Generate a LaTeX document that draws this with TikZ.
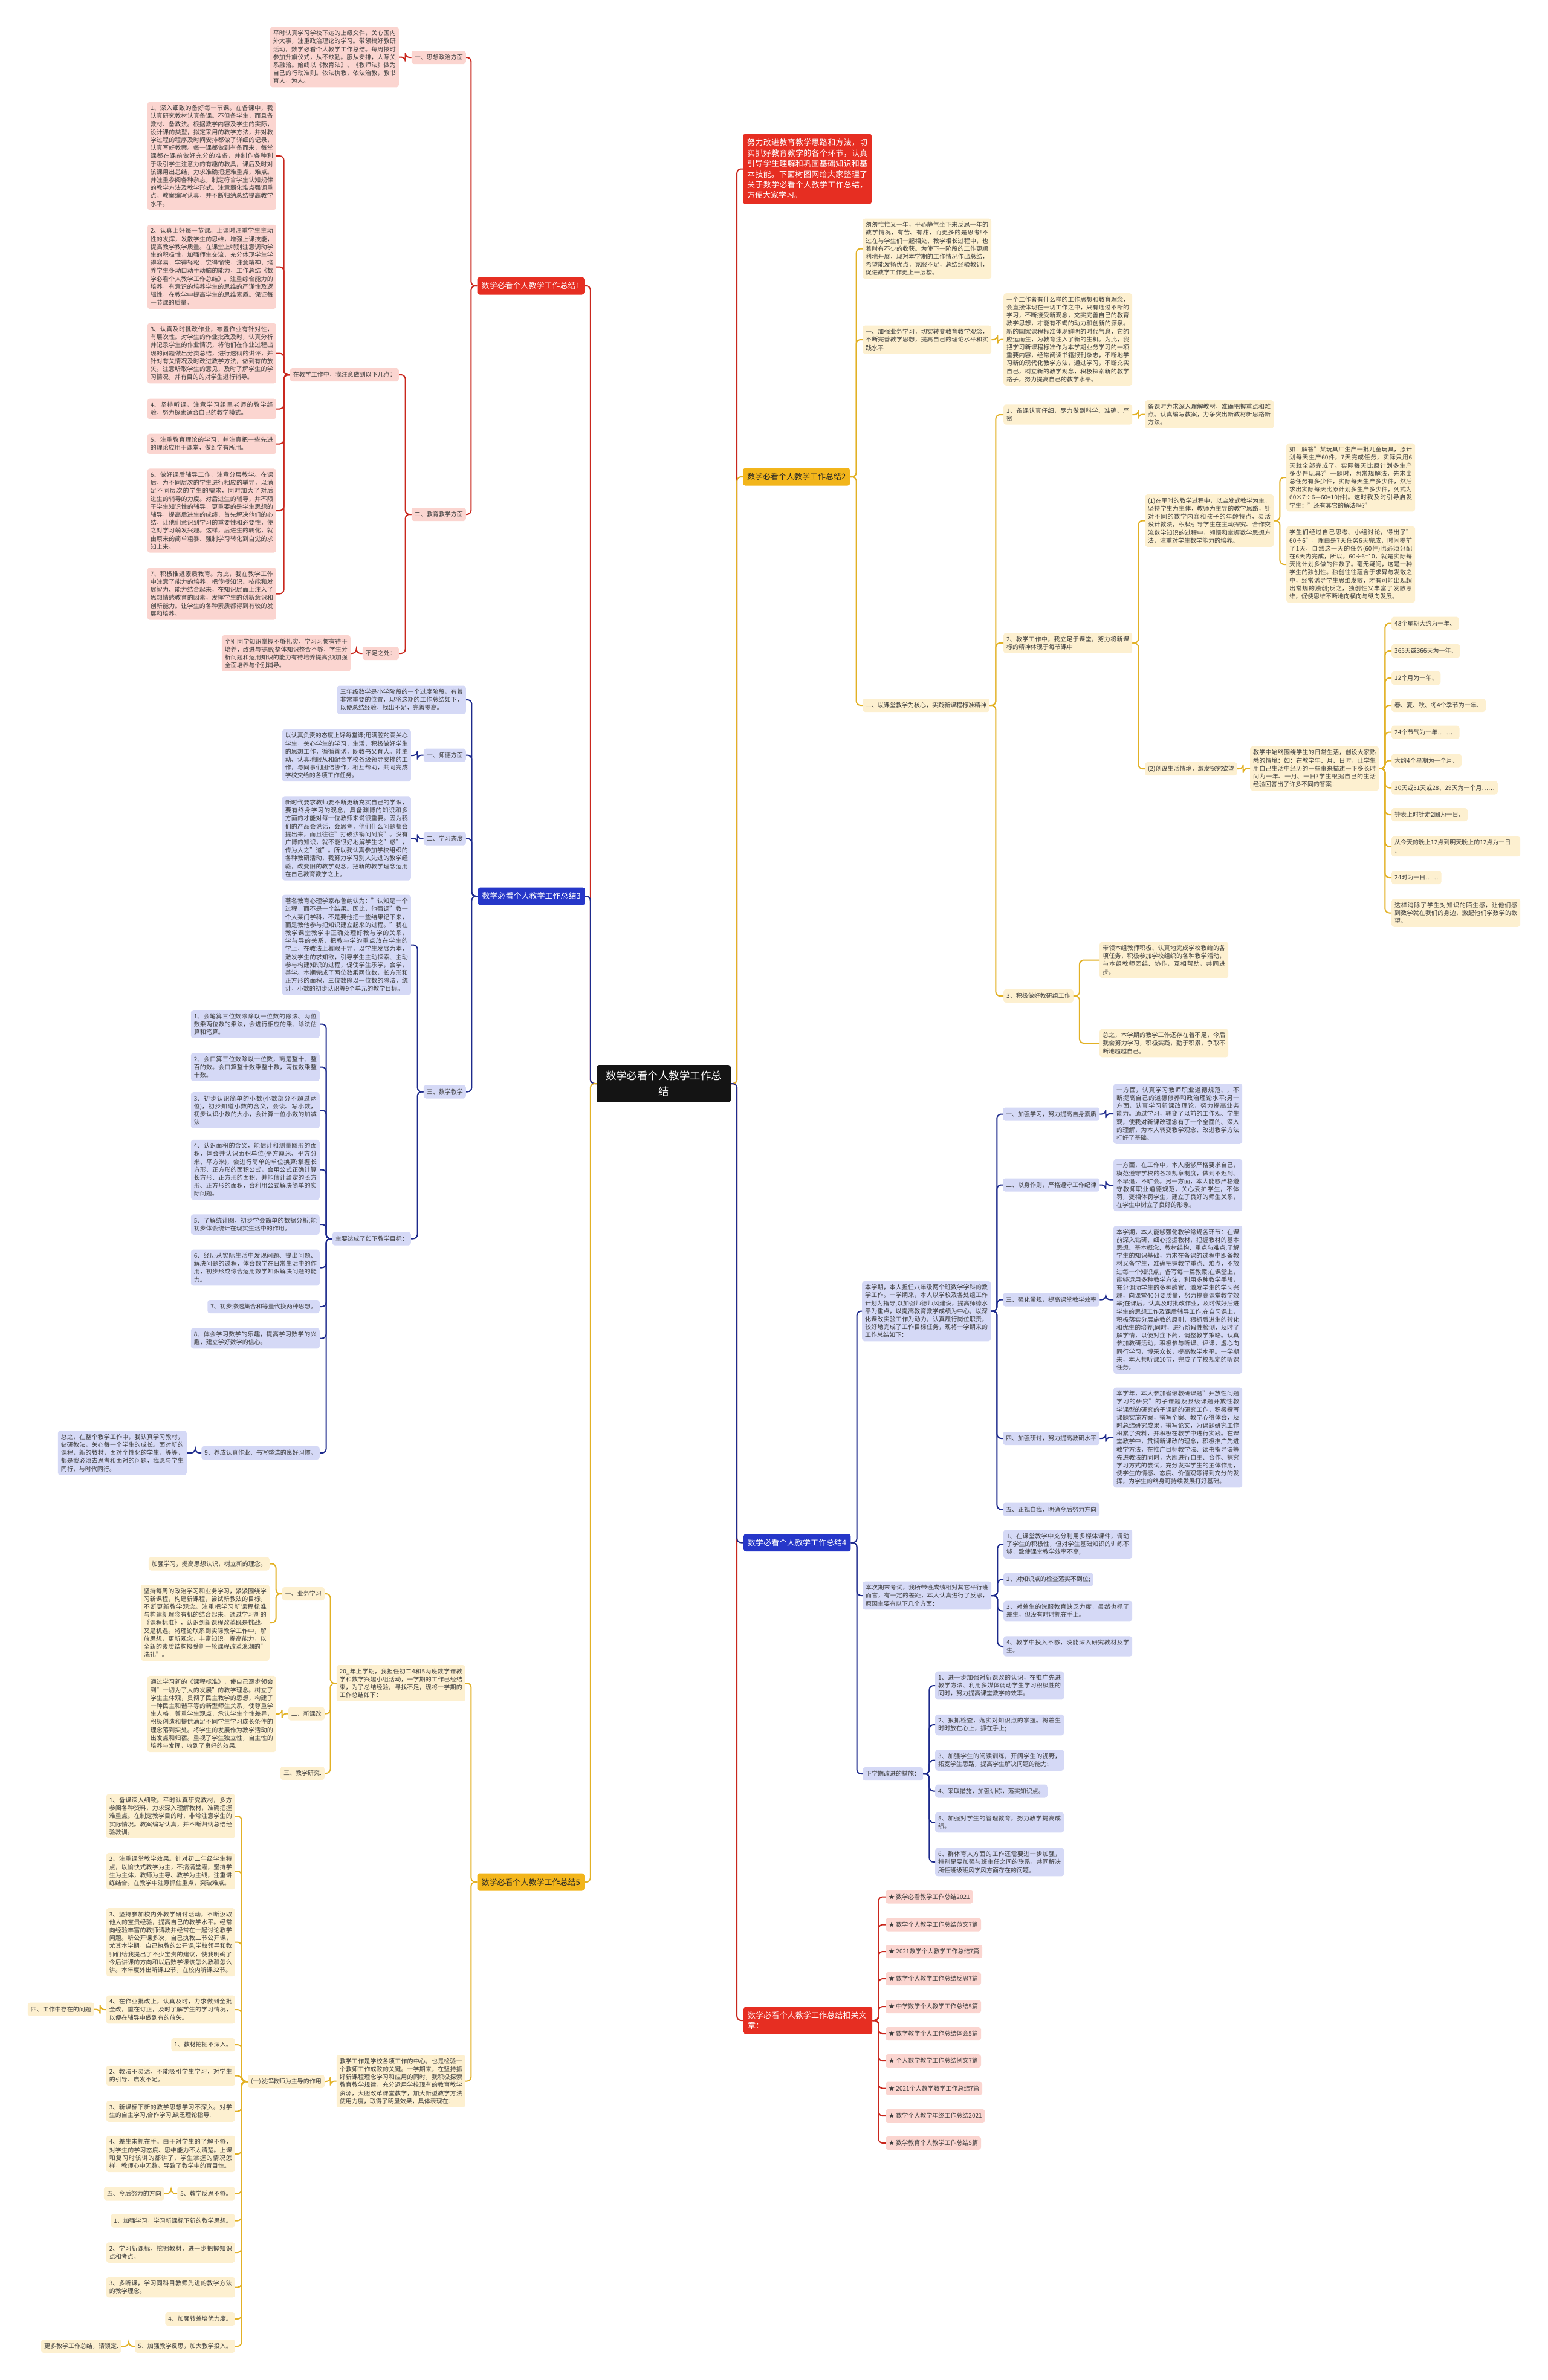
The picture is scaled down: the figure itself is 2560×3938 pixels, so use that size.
\documentclass[tikz,border=0pt]{standalone}
\usepackage{fontspec}
\setmainfont{Noto Sans CJK SC}
\XeTeXlinebreaklocale "zh"
\XeTeXlinebreakskip=0pt plus 1pt
\tolerance=9999
\usepackage{tikz}
\definecolor{mainred}{HTML}{E62E22}
\definecolor{pinkfill}{HTML}{FBD5D0}
\definecolor{linered}{HTML}{C9271D}
\definecolor{mainyel}{HTML}{F2B51B}
\definecolor{yelfill}{HTML}{FDF0D0}
\definecolor{lineyel}{HTML}{E2B125}
\definecolor{mainblue}{HTML}{2637C9}
\definecolor{bluefill}{HTML}{D5D9F6}
\definecolor{lineblue}{HTML}{1D2A8C}
\definecolor{txt}{HTML}{3C3C3C}
\definecolor{rootfill}{HTML}{141414}

\begin{document}
\begin{tikzpicture}[x=1pt, y=-1pt,
 leaf/.style={rounded corners=4pt, inner xsep=5pt, inner ysep=5.5pt, minimum height=22pt,
   font=\fontsize{10}{13.2}\selectfont, text=txt, align=left},
 redleaf/.style={leaf, fill=pinkfill},
 yelleaf/.style={leaf, fill=yelfill},
 bluleaf/.style={leaf, fill=bluefill},
 wide/.style={text width=203pt, align=justify},
 head/.style={rounded corners=4pt, inner xsep=7pt, inner ysep=6pt, minimum height=29pt,
   font=\fontsize{13}{17.4}\selectfont, align=left},
 headred/.style={head, fill=mainred, text=white},
 headyel/.style={head, fill=mainyel, text=black!85},
 headblue/.style={head, fill=mainblue, text=white},
 lnred/.style={draw=linered, line width=2pt, rounded corners=7pt},
 lnyel/.style={draw=lineyel, line width=2pt, rounded corners=7pt},
 lnblue/.style={draw=lineblue, line width=2pt, rounded corners=7pt}]
\useasboundingbox (0,0) rectangle (2560,3938);

% centre
\node[rounded corners=4pt, fill=rootfill, text=white, font=\fontsize{17.4}{25.7}\selectfont,
  text width=196pt, align=center, inner xsep=13pt, inner ysep=10pt] (root) at (1098,1793)
  {数学必看个人教学工作总\\结};

% ---------------- right side ----------------
\node[headred, text width=199pt, align=justify, inner ysep=8.5pt, anchor=west] (intro) at (1229,279.5)
  {努力改进教育教学思路和方法，切实抓好教育教学的各个环节，认真引导学生理解和巩固基础知识和基本技能。下面树图网给大家整理了关于数学必看个人教学工作总结，方便大家学习。};

% summary 2
\node[headyel, anchor=west] (s2) at (1229,789) {数学必看个人教学工作总结2};
\node[yelleaf, wide, anchor=west] (s2i) at (1427,411.5) {匆匆忙忙又一年，平心静气坐下来反思一年的教学情况，有苦、有甜，而更多的是思考!不过在与学生们一起相处、教学相长过程中，也着时有不少的收获。为使下一阶段的工作更顺利地开展，现对本学期的工作情况作出总结，希望能发扬优点，克服不足，总结经验教训，促进教学工作更上一层楼。};
\node[yelleaf, wide, anchor=west] (s2a) at (1427,562) {一、加强业务学习，切实转变教育教学观念，不断完善教学思想，提高自己的理论水平和实践水平};
\node[yelleaf, wide, anchor=west] (s2a1) at (1660,561.5) {一个工作者有什么样的工作思想和教育理念，会直接体现在一切工作之中，只有通过不断的学习，不断接受新观念，充实完善自己的教育教学思想，才能有不竭的动力和创新的源泉。新的国家课程标准体现鲜明的时代气息，它的应运而生，为教育注入了新的生机。为此，我把学习新课程标准作为本学期业务学习的一项重要内容，经常阅读书籍报刊杂志，不断地学习新的现代化教学方法，通过学习，不断充实自己，树立新的教学观念，积极探索新的教学路子，努力提高自己的教学水平。};
\node[yelleaf, anchor=west] (s2b) at (1427,1167) {二、以课堂教学为核心，实践新课程标准精神};
\node[yelleaf, wide, anchor=west] (s2b1) at (1660,686) {1、备课认真仔细，尽力做到科学、准确、严密};
\node[yelleaf, wide, anchor=west] (s2b1a) at (1894,685.5) {备课时力求深入理解教材，准确把握重点和难点。认真编写教案，力争突出新教材新思路新方法。};
\node[yelleaf, wide, anchor=west] (s2b2) at (1660,1064) {2、教学工作中，我立足于课堂，努力将新课标的精神体现于每节课中};
\node[yelleaf, wide, anchor=west] (s2b2a) at (1894,861.5) {(1)在平时的教学过程中，以启发式教学为主，坚持学生为主体，教师为主导的教学思路，针对不同的数学内容和孩子的年龄特点，灵活设计教法，积极引导学生在主动探究、合作交流数学知识的过程中，领悟和掌握数学思想方法，注重对学生数学能力的培养。};
\node[yelleaf, wide, anchor=west] (s2b2a1) at (2128,790) {如：解答"某玩具厂生产一批儿童玩具，原计划每天生产60件，7天完成任务，实际只用6天就全部完成了。实际每天比原计划多生产多少件玩具?"一题时，照常规解法，先求出总任务有多少件，实际每天生产多少件，然后求出实际每天比原计划多生产多少件，列式为60×7÷6—60=10(件)。这时我及时引导启发学生："还有其它的解法吗?"};
\node[yelleaf, wide, anchor=west] (s2b2a2) at (2128,934) {学生们经过自己思考、小组讨论，得出了"60÷6"，理由是7天任务6天完成，时间提前了1天，自然这一天的任务(60件)也必须分配在6天内完成，所以，60÷6=10，就是实际每天比计划多做的件数了。毫无疑问，这是一种学生的独创性。独创往往蕴含于求异与发散之中，经常诱导学生思维发散，才有可能出现超出常规的独创;反之，独创性又丰富了发散思维，促使思维不断地向横向与纵向发展。};
\node[yelleaf, anchor=west] (s2b2b) at (1894,1272) {(2)创设生活情境，激发探究欲望};
\node[yelleaf, wide, anchor=west] (s2b2b1) at (2068,1271.5) {教学中始终围绕学生的日常生活，创设大家熟悉的情境：如：在教学年、月、日时，让学生用自己生活中经历的一些事来描述一下多长时间为一年、一月、一日?学生根据自己的生活经验回答出了许多不同的答案：};
\node[yelleaf, anchor=west] (s2y1) at (2302,1031.5) {48个星期大约为一年、};
\node[yelleaf, anchor=west] (s2y2) at (2302,1077) {365天或366天为一年、};
\node[yelleaf, anchor=west] (s2y3) at (2302,1122) {12个月为一年、};
\node[yelleaf, anchor=west] (s2y4) at (2302,1167) {春、夏、秋、冬4个季节为一年、};
\node[yelleaf, anchor=west] (s2y5) at (2302,1211.5) {24个节气为一年……、};
\node[yelleaf, anchor=west] (s2y6) at (2302,1258.5) {大约4个星期为一个月、};
\node[yelleaf, anchor=west] (s2y7) at (2302,1303.5) {30天或31天或28、29天为一个月……};
\node[yelleaf, anchor=west] (s2y8) at (2302,1348) {钟表上时针走2圈为一日、};
\node[yelleaf, text width=203pt, anchor=west] (s2y9) at (2302,1400.5) {从今天的晚上12点到明天晚上的12点为一日\\、};
\node[yelleaf, anchor=west] (s2y10) at (2302,1452) {24时为一日……};
\node[yelleaf, wide, anchor=west] (s2y11) at (2302,1510.5) {这样消除了学生对知识的陌生感，让他们感到数学就在我们的身边，激起他们学数学的欲望。};
\node[yelleaf, anchor=west] (s2b3) at (1660,1648) {3、积极做好教研组工作};
\node[yelleaf, wide, anchor=west] (s2b3a) at (1819,1588.5) {带领本组教师积极、认真地完成学校教给的各项任务，积极参加学校组织的各种教学活动，与本组教师团结、协作，互相帮助，共同进步。};
\node[yelleaf, wide, anchor=west] (s2b3b) at (1819,1726) {总之，本学期的教学工作还存在着不足，今后我会努力学习，积极实践，勤于积累，争取不断地超越自己。};

% summary 4
\node[headblue, anchor=west] (s4) at (1230,2552.5) {数学必看个人教学工作总结4};
\node[bluleaf, wide, anchor=west] (s4a) at (1426,2169.5) {本学期，本人担任八年级两个班数学学科的教学工作。一学期来，本人以学校及各处组工作计划为指导,以加强师德师风建设，提高师德水平为重点，以提高教育教学成绩为中心，以深化课改实验工作为动力，认真履行岗位职责，较好地完成了工作目标任务，现将一学期来的工作总结如下：};
\node[bluleaf, anchor=west] (s4a1) at (1659,1843.5) {一、加强学习，努力提高自身素质};
\node[bluleaf, anchor=west] (s4a2) at (1659,1960.5) {二、以身作则，严格遵守工作纪律};
\node[bluleaf, anchor=west] (s4a3) at (1659,2150.5) {三、强化常规，提高课堂教学效率};
\node[bluleaf, anchor=west] (s4a4) at (1659,2380) {四、加强研讨，努力提高教研水平};
\node[bluleaf, anchor=west] (s4a5) at (1659,2497.5) {五、正视自我，明确今后努力方向};
\node[bluleaf, wide, anchor=west] (s4a1p) at (1842,1843) {一方面，认真学习教师职业道德规范、，不断提高自己的道德修养和政治理论水平;另一方面，认真学习新课改理论，努力提高业务能力。通过学习，转变了以前的工作观、学生观，使我对新课改理念有了一个全面的、深入的理解，为本人转变教学观念、改进教学方法打好了基础。};
\node[bluleaf, wide, anchor=west] (s4a2p) at (1842,1961) {一方面，在工作中，本人能够严格要求自己，模范遵守学校的各项规章制度，做到不迟到、不早退，不旷会。另一方面，本人能够严格遵守教师职业道德规范，关心爱护学生，不体罚，变相体罚学生，建立了良好的师生关系，在学生中树立了良好的形象。};
\node[bluleaf, wide, anchor=west] (s4a3p) at (1842,2150.5) {本学期，本人能够强化教学常规各环节：在课前深入钻研、细心挖掘教材，把握教材的基本思想、基本概念、教材结构、重点与难点;了解学生的知识基础，力求在备课的过程中即备教材又备学生，准确把握教学重点、难点，不放过每一个知识点，备写每一篇教案;在课堂上，能够运用多种教学方法，利用多种教学手段，充分调动学生的多种感官，激发学生的学习兴趣，向课堂40分要质量，努力提高课堂教学效率;在课后，认真及时批改作业，及时做好后进学生的思想工作及课后辅导工作;在自习课上，积极落实分层施教的原则，狠抓后进生的转化和优生的培养;同时，进行阶段性检测，及时了解学情，以便对症下药，调整教学策略。认真参加教研活动，积极参与听课、评课，虚心向同行学习，博采众长，提高教学水平。一学期来，本人共听课10节，完成了学校规定的听课任务。};
\node[bluleaf, wide, anchor=west] (s4a4p) at (1842,2378.5) {本学年，本人参加省级教研课题"开放性问题学习的研究"的子课题及县级课题开放性教学课型的研究的子课题的研究工作，积极撰写课题实施方案，撰写个案、教学心得体会，及时总结研究成果，撰写论文，为课题研究工作积累了资料，并积极在教学中进行实践。在课堂教学中，贯彻新课改的理念，积极推广先进教学方法，在推广目标教学法、读书指导法等先进教法的同时，大胆进行自主、合作、探究学习方式的尝试，充分发挥学生的主体作用，使学生的情感、态度、价值观等得到充分的发挥，为学生的终身可持续发展打好基础。};
\node[bluleaf, wide, anchor=west] (s4b) at (1427,2640) {本次期末考试，我所带班成绩相对其它平行班而言，有一定的差距，本人认真进行了反思，原因主要有以下几个方面：};
\node[bluleaf, wide, anchor=west] (s4b1) at (1660,2555) {1、在课堂教学中充分利用多媒体课件，调动了学生的积极性，但对学生基础知识的训练不够，致使课堂教学效率不高;};
\node[bluleaf, anchor=west] (s4b2) at (1660,2613.5) {2、对知识点的检查落实不到位;};
\node[bluleaf, wide, anchor=west] (s4b3) at (1660,2665.5) {3、对差生的说服教育缺乏力度，虽然也抓了差生，但没有时时抓在手上。};
\node[bluleaf, wide, anchor=west] (s4b4) at (1660,2724) {4、教学中投入不够，没能深入研究教材及学生。};
\node[bluleaf, anchor=west] (s4c) at (1427,2935) {下学期改进的措施：};
\node[bluleaf, wide, anchor=west] (s4c1) at (1547,2789) {1、进一步加强对新课改的认识，在推广先进教学方法、利用多媒体调动学生学习积极性的同时，努力提高课堂教学的效率。};
\node[bluleaf, wide, anchor=west] (s4c2) at (1547,2854) {2、狠抓检查，落实对知识点的掌握。将差生时时放在心上，抓在手上;};
\node[bluleaf, wide, anchor=west] (s4c3) at (1547,2912.5) {3、加强学生的阅读训练，开阔学生的视野，拓宽学生思路，提高学生解决问题的能力;};
\node[bluleaf, anchor=west] (s4c4) at (1547,2963.5) {4、采取措施，加强训练，落实知识点。};
\node[bluleaf, wide, anchor=west] (s4c5) at (1547,3015.5) {5、加强对学生的管理教育，努力教学提高成绩。};
\node[bluleaf, wide, anchor=west] (s4c6) at (1547,3081) {6、群体育人方面的工作还需要进一步加强，特别是要加强与班主任之间的联系，共同解决所任班级班风学风方面存在的问题。};

% related articles
\node[headred, text width=199pt, inner ysep=8pt, anchor=west] (rel) at (1230,3343) {数学必看个人教学工作总结相关文章：};
\node[redleaf, anchor=west] (rel1) at (1465,3138.5) {★ 数学必看教学工作总结2021};
\node[redleaf, anchor=west] (rel2) at (1465,3184.5) {★ 数学个人教学工作总结范文7篇};
\node[redleaf, anchor=west] (rel3) at (1465,3229) {★ 2021数学个人教学工作总结7篇};
\node[redleaf, anchor=west] (rel4) at (1465,3274) {★ 数学个人教学工作总结反思7篇};
\node[redleaf, anchor=west] (rel5) at (1465,3320) {★ 中学数学个人教学工作总结5篇};
\node[redleaf, anchor=west] (rel6) at (1465,3365) {★ 数学教学个人工作总结体会5篇};
\node[redleaf, anchor=west] (rel7) at (1465,3410) {★ 个人数学教学工作总结例文7篇};
\node[redleaf, anchor=west] (rel8) at (1465,3455.5) {★ 2021个人数学教学工作总结7篇};
\node[redleaf, anchor=west] (rel9) at (1465,3501) {★ 数学个人教学年终工作总结2021};
\node[redleaf, anchor=west] (rel10) at (1465,3546) {★ 数学教育个人教学工作总结5篇};

% ---------------- left side ----------------
% summary 1
\node[headred, anchor=east] (s1) at (967,473) {数学必看个人教学工作总结1};
\node[redleaf, anchor=east] (s1a) at (771,95) {一、思想政治方面};
\node[redleaf, wide, anchor=east] (s1a1) at (660,94.5) {平时认真学习学校下达的上级文件，关心国内外大事，注重政治理论的学习。带领搞好教研活动，数学必看个人教学工作总结。每周按时参加升旗仪式，从不缺勤。服从安排，人际关系融洽。始终以《教育法》、《教师法》做为自己的行动准则。依法执教，依法治教，教书育人，为人。};
\node[redleaf, anchor=east] (s1b) at (771,851) {二、教育教学方面};
\node[redleaf, anchor=east] (s1b1) at (660,620) {在教学工作中，我注意做到以下几点：};
\node[redleaf, wide, anchor=east] (s1p1) at (457,258) {1、深入细致的备好每一节课。在备课中，我认真研究教材认真备课。不但备学生，而且备教材、备教法。根据教学内容及学生的实际，设计课的类型，拟定采用的教学方法，并对教学过程的程序及时间安排都做了详细的记录，认真写好教案。每一课都做到有备而来，每堂课都在课前做好充分的准备，并制作各种利于吸引学生注意力的有趣的教具，课后及时对该课用出总结，力求准确把握难重点，难点。并注重参阅各种杂志，制定符合学生认知规律的教学方法及教学形式。注意弱化难点强调重点。教案编写认真，并不断归纳总结提高教学水平。};
\node[redleaf, wide, anchor=east] (s1p2) at (457,441.5) {2、认真上好每一节课。上课时注重学生主动性的发挥，发散学生的思维，增强上课技能，提高教学教学质量。在课堂上特别注意调动学生的积极性，加强师生交流，充分体现学生学得容易，学得轻松，觉得愉快，注意精神，培养学生多动口动手动脑的能力，工作总结《数学必看个人教学工作总结》。注重综合能力的培养，有意识的培养学生的思维的严谨性及逻辑性，在教学中提高学生的思维素质。保证每一节课的质量。};
\node[redleaf, wide, anchor=east] (s1p3) at (457,584.5) {3、认真及时批改作业，布置作业有针对性，有层次性。对学生的作业批改及时，认真分析并记录学生的作业情况，将他们在作业过程出现的问题做出分类总结，进行透彻的讲评，并针对有关情况及时改进教学方法，做到有的放矢。注意听取学生的意见，及时了解学生的学习情况，并有目的的对学生进行辅导。};
\node[redleaf, wide, anchor=east] (s1p4) at (457,676.5) {4、坚持听课，注意学习组里老师的教学经验，努力探索适合自己的教学模式。};
\node[redleaf, wide, anchor=east] (s1p5) at (457,734.5) {5、注重教育理论的学习，并注意把一些先进的理论应用于课堂，做到学有所用。};
\node[redleaf, wide, anchor=east] (s1p6) at (457,845) {6、做好课后辅导工作，注意分层教学。在课后，为不同层次的学生进行相应的辅导，以满足不同层次的学生的需求，同时加大了对后进生的辅导的力度。对后进生的辅导，并不限于学生知识性的辅导，更重要的是学生思想的辅导，提高后进生的成绩，首先解决他们的心结，让他们意识到学习的重要性和必要性，使之对学习萌发兴趣。这样，后进生的转化，就由原来的简单粗暴、强制学习转化到自觉的求知上来。};
\node[redleaf, wide, anchor=east] (s1p7) at (457,982.5) {7、积极推进素质教育。为此，我在教学工作中注意了能力的培养，把传授知识、技能和发展智力、能力结合起来，在知识层面上注入了思想情感教育的因素，发挥学生的创新意识和创新能力。让学生的各种素质都得到有较的发展和培养。};
\node[redleaf, anchor=east] (s1b2) at (660,1081) {不足之处：};
\node[redleaf, wide, anchor=east] (s1b2a) at (580,1081) {个别同学知识掌握不够扎实，学习习惯有待于培养，改进与提高;整体知识整合不够，学生分析问题和运用知识的能力有待培养提高;须加强全面培养与个别辅导。};

% summary 3
\node[headblue, anchor=east] (s3) at (968,1483) {数学必看个人教学工作总结3};
\node[bluleaf, wide, anchor=east] (s3i) at (771,1158) {三年级数学是小学阶段的一个过度阶段，有着非常重要的位置，现将这期的工作总结如下，以便总结经验，找出不足，完善提高。};
\node[bluleaf, anchor=east] (s3a) at (771,1249.5) {一、师德方面};
\node[bluleaf, wide, anchor=east] (s3a1) at (680,1250) {以认真负责的态度上好每堂课;用满腔的爱关心学生，关心学生的学习，生活，积极做好学生的思想工作，循循善诱，既教书又育人。能主动、认真地服从和配合学校各级领导安排的工作，与同事们团结协作，相互帮助，共同完成学校交给的各项工作任务。};
\node[bluleaf, anchor=east] (s3b) at (771,1387.5) {二、学习态度};
\node[bluleaf, wide, anchor=east] (s3b1) at (680,1387) {新时代要求教师要不断更新充实自己的学识，要有终身学习的观念，具备渊博的知识和多方面的才能对每一位教师来说很重要。因为我们的产品会说话，会思考，他们什么问题都会提出来，而且往往"打破沙锅问到底"。没有广博的知识，就不能很好地解学生之"惑"，传为人之"道"。所以我认真参加学校组织的各种教研活动，我努力学习别人先进的教学经验，改变旧的教学观念，把新的教学理念运用在自己教育教学之上。};
\node[bluleaf, anchor=east] (s3c) at (771,1806.5) {三、数学教学};
\node[bluleaf, wide, anchor=east] (s3c1) at (680,1563.5) {著名教育心理学家布鲁纳认为："认知是一个过程，而不是一个结果。因此，他强调"教一个人某门学科，不是要他把一些结果记下来，而是教他参与把知识建立起来的过程。"我在教学课堂教学中正确处理好教与学的关系，学与导的关系，把教与学的重点放在学生的学上，在教法上着眼于导，以学生发展为本，激发学生的求知欲，引导学生主动探索、主动参与构建知识的过程，促使学生乐学，会学，善学。本期完成了两位数乘两位数，长方形和正方形的面积，三位数除以一位数的除法，统计，小数的初步认识等9个单元的教学目标。};
\node[bluleaf, anchor=east] (s3c2) at (680,2049.5) {主要达成了如下教学目标：};
\node[bluleaf, wide, anchor=east] (s3g1) at (529,1694.5) {1、会笔算三位数除除以一位数的除法、两位数乘两位数的乘法，会进行相应的乘、除法估算和笔算。};
\node[bluleaf, wide, anchor=east] (s3g2) at (529,1765.5) {2、会口算三位数除以一位数，商是整十、整百的数。会口算整十数乘整十数，两位数乘整十数。};
\node[bluleaf, wide, anchor=east] (s3g3) at (529,1837) {3、初步认识简单的小数(小数部分不超过两位)，初步知道小数的含义，会读、写小数，初步认识小数的大小，会计算一位小数的加减法};
\node[bluleaf, wide, anchor=east] (s3g4) at (529,1935.5) {4、认识面积的含义，能估计和测量图形的面积，体会并认识面积单位(平方厘米、平方分米、平方米)，会进行简单的单位换算;掌握长方形、正方形的面积公式，会用公式正确计算长方形、正方形的面积，并能估计给定的长方形、正方形的面积，会利用公式解决简单的实际问题。};
\node[bluleaf, wide, anchor=east] (s3g5) at (529,2026) {5、了解统计图，初步学会简单的数据分析;能初步体会统计在现实生活中的作用。};
\node[bluleaf, wide, anchor=east] (s3g6) at (529,2097.5) {6、经历从实际生活中发现问题、提出问题、解决问题的过程，体会数学在日常生活中的作用，初步形成综合运用数学知识解决问题的能力。};
\node[bluleaf, anchor=east] (s3g7) at (529,2162) {7、初步渗透集合和等量代换两种思想。};
\node[bluleaf, wide, anchor=east] (s3g8) at (529,2214.5) {8、体会学习数学的乐趣，提高学习数学的兴趣，建立学好数学的信心。};
\node[bluleaf, anchor=east] (s3g9) at (529,2404) {9、养成认真作业、书写整洁的良好习惯。};
\node[bluleaf, wide, anchor=east] (s3g9a) at (309,2404) {总之，在整个教学工作中，我认真学习教材，钻研教法，关心每一个学生的成长。面对新的课程，新的教材，面对个性化的学生，等等，都是我必须去思考和面对的问题，我愿与学生同行，与时代同行。};

% summary 5
\node[headyel, anchor=east] (s5) at (967,3114) {数学必看个人教学工作总结5};
\node[yelleaf, wide, anchor=east] (s5a) at (770,2785) {20\_年上学期，我担任初二4和5两班数学课教学和数学兴趣小组活动，一学期的工作已经结束，为了总结经验，寻找不足，现将一学期的工作总结如下：};
\node[yelleaf, anchor=east] (s5a1) at (537,2637) {一、业务学习};
\node[yelleaf, anchor=east] (s5a1a) at (446,2587.5) {加强学习，提高思想认识，树立新的理念。};
\node[yelleaf, wide, anchor=east] (s5a1b) at (446,2685) {坚持每周的政治学习和业务学习，紧紧围绕学习新课程，构建新课程，尝试新教法的目标，不断更新教学观念。注重把学习新课程标准与构建新理念有机的结合起来。通过学习新的《课程标准》，认识到新课程改革既是挑战，又是机遇。将理论联系到实际教学工作中，解放思想，更新观念，丰富知识，提高能力，以全新的素质结构接受新一轮课程改革浪潮的"洗礼"。};
\node[yelleaf, anchor=east] (s5a2) at (537,2835.5) {二、新课改};
\node[yelleaf, wide, anchor=east] (s5a2a) at (457,2836) {通过学习新的《课程标准》，使自己逐步领会到"一切为了人的发展"的教学理念。树立了学生主体观，贯彻了民主教学的思想，构建了一种民主和谐平等的新型师生关系，使尊重学生人格，尊重学生观点，承认学生个性差异，积极创造和提供满足不同学生学习成长条件的理念落到实处。将学生的发展作为教学活动的出发点和归宿。重视了学生独立性，自主性的培养与发挥，收到了良好的效果.};
\node[yelleaf, anchor=east] (s5a3) at (537,2934) {三、教学研究.};
\node[yelleaf, wide, anchor=east] (s5b) at (770,3443.5) {教学工作是学校各项工作的中心，也是检验一个教师工作成败的关键。一学期来，在坚持抓好新课程理念学习和应用的同时，我积极探索教育教学规律，充分运用学校现有的教育教学资源，大胆改革课堂教学，加大新型教学方法使用力度，取得了明显效果，具体表现在：};
\node[yelleaf, anchor=east] (s5b1) at (537,3444) {(一)发挥教师为主导的作用};
\node[yelleaf, wide, anchor=east] (s5t1) at (389,3005) {1、备课深入细致。平时认真研究教材，多方参阅各种资料，力求深入理解教材，准确把握难重点。在制定教学目的时，非常注意学生的实际情况。教案编写认真，并不断归纳总结经验教训。};
\node[yelleaf, wide, anchor=east] (s5t2) at (389,3096) {2、注重课堂教学效果。针对初二年级学生特点，以愉快式教学为主，不搞满堂灌，坚持学生为主体，教师为主导、教学为主线，注重讲练结合。在教学中注意抓住重点，突破难点。};
\node[yelleaf, wide, anchor=east] (s5t3) at (389,3213.5) {3、坚持参加校内外教学研讨活动，不断汲取他人的宝贵经验，提高自己的教学水平。经常向经验丰富的教师请教并经常在一起讨论教学问题。听公开课多次，自己执教二节公开课，尤其本学期，自己执教的公开课,学校领导和教师们给我提出了不少宝贵的建议，使我明确了今后讲课的方向和以后数学课该怎么教和怎么讲。本年度外出听课12节，在校内听课32节。};
\node[yelleaf, wide, anchor=east] (s5t4) at (389,3325) {4、在作业批改上，认真及时，力求做到全批全改，重在订正，及时了解学生的学习情况，以便在辅导中做到有的放矢。};
\node[yelleaf, anchor=east] (s5t4a) at (156,3324.5) {四、工作中存在的问题};
\node[yelleaf, anchor=east] (s5p1) at (389,3383) {1、教材挖掘不深入。};
\node[yelleaf, wide, anchor=east] (s5p2) at (389,3434.5) {2、教法不灵活，不能吸引学生学习，对学生的引导、启发不足。};
\node[yelleaf, wide, anchor=east] (s5p3) at (389,3493.5) {3、新课标下新的教学思想学习不深入。对学生的自主学习,合作学习,缺乏理论指导.};
\node[yelleaf, wide, anchor=east] (s5p4) at (389,3564) {4、差生未抓在手。由于对学生的了解不够，对学生的学习态度、思维能力不太清楚。上课和复习时该讲的都讲了，学生掌握的情况怎样，教师心中无数。导致了教学中的盲目性。};
\node[yelleaf, anchor=east] (s5p5) at (389,3629.5) {5、教学反思不够。};
\node[yelleaf, anchor=east] (s5p5a) at (272,3629.5) {五、今后努力的方向};
\node[yelleaf, anchor=east] (s5q1) at (389,3674.5) {1、加强学习，学习新课标下新的教学思想。};
\node[yelleaf, wide, anchor=east] (s5q2) at (389,3727) {2、学习新课标，挖掘教材，进一步把握知识点和考点。};
\node[yelleaf, wide, anchor=east] (s5q3) at (389,3784.5) {3、多听课，学习同科目教师先进的教学方法的教学理念。};
\node[yelleaf, anchor=east] (s5q4) at (389,3837) {4、加强转差培优力度。};
\node[yelleaf, anchor=east] (s5q5) at (389,3882) {5、加强教学反思，加大教学投入。};
\node[yelleaf, anchor=east] (s5q5a) at (201,3882) {更多教学工作总结，请锁定.};

% ---------------- connectors ----------------
\foreach \a/\b in {root/intro,root/rel,rel/rel1,rel/rel2,rel/rel3,rel/rel4,rel/rel5,rel/rel6,rel/rel7,rel/rel8,rel/rel9,rel/rel10}
  {\draw[lnred](\a.east)--++(10,0)|-(\b.west);}
\foreach \a/\b in {root/s2,s2/s2i,s2/s2a,s2/s2b,s2a/s2a1,s2b/s2b1,s2b/s2b2,s2b/s2b3,s2b1/s2b1a,s2b2/s2b2a,s2b2/s2b2b,s2b2a/s2b2a1,s2b2a/s2b2a2,s2b2b/s2b2b1,s2b3/s2b3a,s2b3/s2b3b}
  {\draw[lnyel](\a.east)--++(10,0)|-(\b.west);}
\foreach \b in {s2y1,s2y2,s2y3,s2y4,s2y5,s2y6,s2y7,s2y8,s2y9,s2y10,s2y11}
  {\draw[lnyel](s2b2b1.east)--++(10,0)|-(\b.west);}
\foreach \a/\b in {root/s4,s4/s4a,s4/s4b,s4/s4c,s4a/s4a1,s4a/s4a2,s4a/s4a3,s4a/s4a4,s4a/s4a5,s4a1/s4a1p,s4a2/s4a2p,s4a3/s4a3p,s4a4/s4a4p,s4b/s4b1,s4b/s4b2,s4b/s4b3,s4b/s4b4,s4c/s4c1,s4c/s4c2,s4c/s4c3,s4c/s4c4,s4c/s4c5,s4c/s4c6}
  {\draw[lnblue](\a.east)--++(10,0)|-(\b.west);}

\foreach \a/\b in {root/s1,s1/s1a,s1/s1b,s1a/s1a1,s1b/s1b1,s1b/s1b2,s1b2/s1b2a,s1b1/s1p1,s1b1/s1p2,s1b1/s1p3,s1b1/s1p4,s1b1/s1p5,s1b1/s1p6,s1b1/s1p7}
  {\draw[lnred](\a.west)--++(-10,0)|-(\b.east);}
\foreach \a/\b in {root/s3,s3/s3i,s3/s3a,s3/s3b,s3/s3c,s3a/s3a1,s3b/s3b1,s3c/s3c1,s3c/s3c2,s3g9/s3g9a}
  {\draw[lnblue](\a.west)--++(-10,0)|-(\b.east);}
\foreach \b in {s3g1,s3g2,s3g3,s3g4,s3g5,s3g6,s3g7,s3g8,s3g9}
  {\draw[lnblue](s3c2.west)--++(-10,0)|-(\b.east);}
\foreach \a/\b in {root/s5,s5/s5a,s5/s5b,s5a/s5a1,s5a/s5a2,s5a/s5a3,s5a1/s5a1a,s5a1/s5a1b,s5a2/s5a2a,s5b/s5b1,s5t4/s5t4a,s5p5/s5p5a,s5q5/s5q5a}
  {\draw[lnyel](\a.west)--++(-10,0)|-(\b.east);}
\foreach \b in {s5t1,s5t2,s5t3,s5t4,s5p1,s5p2,s5p3,s5p4,s5p5,s5q1,s5q2,s5q3,s5q4,s5q5}
  {\draw[lnyel](s5b1.west)--++(-10,0)|-(\b.east);}

\end{tikzpicture}
\end{document}
